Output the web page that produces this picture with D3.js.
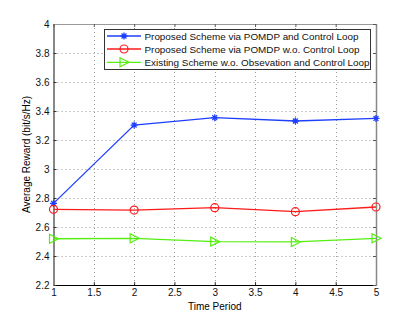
<!DOCTYPE html>
<html>
<head>
<meta charset="utf-8">
<script src="https://cdn.jsdelivr.net/npm/d3@7"></script>
<style>
  body { margin: 0; background: #fff; }
  svg { display: block; font-family: "Liberation Sans", Arial, sans-serif; }
</style>
</head>
<body>
<svg id="chart" width="415" height="321"></svg>
<script>
// 数据
const periods = [1, 2, 3, 4, 5];
const withLoop = [2.763, 3.303, 3.354, 3.331, 3.349];
const noLoop = [2.722, 2.717, 2.733, 2.706, 2.738];
const existing = [2.519, 2.522, 2.499, 2.497, 2.522];
const seriesNames = [
    "Proposed Scheme via POMDP and Control Loop",
    "Proposed Scheme via POMDP w.o. Control Loop",
    "Existing Scheme w.o. Obsevation and Control Loop"
];
const xTicks = [1, 1.5, 2, 2.5, 3, 3.5, 4, 4.5, 5];
const yTicks = [2.2, 2.4, 2.6, 2.8, 3, 3.2, 3.4, 3.6, 3.8, 4];

const plotLeft = 53.5, plotRight = 376, plotTop = 24, plotBottom = 285;

let svg = d3.select("#chart");

let x = d3.scaleLinear().domain([1, 5]).range([plotLeft, plotRight]);
let y = d3.scaleLinear().domain([2.2, 4]).range([plotBottom, plotTop]);

// 网格
let grid = svg.append("g")
    .attr("stroke", "#999")
    .attr("stroke-width", 1)
    .attr("stroke-dasharray", "1,3");
grid.selectAll(".gx")
    .data(xTicks.slice(1, -1))
    .enter()
    .append("line")
    .attr("x1", d => Math.round(x(d)) + 0.5)
    .attr("x2", d => Math.round(x(d)) + 0.5)
    .attr("y1", plotTop)
    .attr("y2", plotBottom);
grid.selectAll(".gy")
    .data(yTicks.slice(1, -1))
    .enter()
    .append("line")
    .attr("x1", plotLeft)
    .attr("x2", plotRight)
    .attr("y1", d => Math.round(y(d)) + 0.5)
    .attr("y2", d => Math.round(y(d)) + 0.5);

// 坐标轴
let xAxis = d3.axisBottom(x).tickValues(xTicks).tickSizeInner(-3).tickSizeOuter(0).tickPadding(4)
    .tickFormat(d3.format("~g"));
let yAxis = d3.axisLeft(y).tickValues(yTicks).tickSizeInner(-3).tickSizeOuter(0).tickPadding(4)
    .tickFormat(d3.format("~g"));

let gx = svg.append("g").attr("transform", "translate(0," + plotBottom + ")").call(xAxis);
let gy = svg.append("g").attr("transform", "translate(" + plotLeft + ",0)").call(yAxis);
[gx, gy].forEach(g => {
    g.selectAll("text").attr("font-size", 10).attr("fill", "#111").attr("font-family", "Liberation Sans, Arial, sans-serif");
    g.selectAll(".tick line").attr("stroke", "#333");
});
gx.select(".domain").attr("stroke", "#000").attr("stroke-width", 1.2);
gy.select(".domain").attr("stroke", "#888").attr("stroke-width", 2);

// 顶部和右侧刻度
svg.append("g").attr("transform", "translate(0," + plotTop + ")")
    .call(d3.axisTop(x).tickValues(xTicks).tickSizeInner(-3).tickSizeOuter(0).tickFormat(""))
    .call(g => g.select(".domain").attr("stroke", "#999"))
    .call(g => g.selectAll(".tick line").attr("stroke", "#555"));
svg.append("g").attr("transform", "translate(" + plotRight + ",0)")
    .call(d3.axisRight(y).tickValues(yTicks).tickSizeInner(-3).tickSizeOuter(0).tickFormat(""))
    .call(g => g.select(".domain").attr("stroke", "#888").attr("stroke-width", 1.5))
    .call(g => g.selectAll(".tick line").attr("stroke", "#555"));

// 轴标题
svg.append("text")
    .attr("x", (plotLeft + plotRight) / 2)
    .attr("y", 310)
    .attr("text-anchor", "middle")
    .attr("font-size", 10)
    .text("Time Period");
svg.append("text")
    .attr("transform", "translate(30," + (plotTop + plotBottom) / 2 + ") rotate(-90)")
    .attr("text-anchor", "middle")
    .attr("font-size", 10)
    .text("Average Reward (bit/s/Hz)");

let line = d3.line().x((d, i) => x(periods[i])).y(d => y(d));

// 标记
function star(g, cx, cy, color) {
    let r = 3.5;
    g.append("path")
        .attr("d", `M${cx - r},${cy}H${cx + r}M${cx},${cy - r}V${cy + r}` +
            `M${cx - r * 0.7},${cy - r * 0.7}L${cx + r * 0.7},${cy + r * 0.7}` +
            `M${cx - r * 0.7},${cy + r * 0.7}L${cx + r * 0.7},${cy - r * 0.7}`)
        .attr("stroke", color).attr("stroke-width", 1.3).attr("fill", "none");
}
function circle(g, cx, cy, color) {
    g.append("circle").attr("cx", cx).attr("cy", cy).attr("r", 4)
        .attr("stroke", color).attr("stroke-width", 1.2).attr("fill", "none");
}
function tri(g, cx, cy, color) {
    g.append("path")
        .attr("d", `M${cx - 4},${cy - 4.5}L${cx + 5},${cy}L${cx - 4},${cy + 4.5}Z`)
        .attr("stroke", color).attr("stroke-width", 1.2).attr("fill", "none");
}

let series = [
    {values: withLoop, color: "#1f3fff", marker: star},
    {values: noLoop, color: "#ff1a1a", marker: circle},
    {values: existing, color: "#55ee11", marker: tri}
];

series.forEach(s => {
    let g = svg.append("g");
    g.append("path")
        .attr("d", line(s.values))
        .attr("fill", "none")
        .attr("stroke", s.color)
        .attr("stroke-width", 1.3);
    s.values.forEach((v, i) => s.marker(g, x(periods[i]), y(v), s.color));
});

// 图例
let lg = svg.append("g");
lg.append("rect")
    .attr("x", 104.5).attr("y", 29.5)
    .attr("width", 266).attr("height", 40)
    .attr("fill", "#fff").attr("stroke", "#333").attr("stroke-width", 1);
let rows = [36, 49, 62.3];
series.forEach((s, i) => {
    lg.append("line")
        .attr("x1", 107).attr("x2", 141)
        .attr("y1", rows[i]).attr("y2", rows[i])
        .attr("stroke", s.color).attr("stroke-width", 1.3);
    s.marker(lg, 124, rows[i], s.color);
    lg.append("text")
        .attr("x", 144.5)
        .attr("y", rows[i] + 3.5)
        .attr("font-size", 9.9)
        .attr("fill", "#111")
        .text(seriesNames[i]);
});
</script>
</body>
</html>
